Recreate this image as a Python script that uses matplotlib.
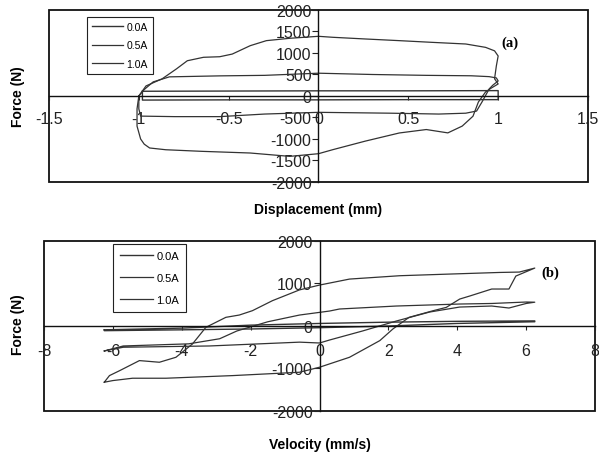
import matplotlib
matplotlib.use("Agg")
import matplotlib.pyplot as plt
from matplotlib.patches import Rectangle

plt.rcParams['font.family'] = ['Liberation Sans', 'DejaVu Sans']

# (a) force vs displacement, one closed loop per current
disp_00 = [-0.98, -0.5, 0.0, 0.5, 1.0, 1.0, 0.5, 0.0, -0.5, -0.98, -0.98]
force_disp_00 = [110, 115, 120, 120, 125, -85, -85, -90, -90, -95, 110]

disp_05 = [-1.0, -0.97, -0.92, -0.83, -0.55, -0.3, 0.0, 0.3, 0.6, 0.85, 0.95, 0.99, 1.0,
           0.97, 0.95, 0.91, 0.88, 0.82, 0.67, 0.4, 0.0, -0.3, -0.55, -0.8, -0.99, -1.0, -1.0]
force_disp_05 = [0, 150, 328, 445, 468, 480, 530, 500, 480, 470, 450, 420, 350,
                 250, 164, -140, -350, -400, -420, -400, -380, -420, -480, -480, -468, -300, 0]

disp_10 = [-1.0, -0.96, -0.87, -0.79, -0.73, -0.64, -0.55, -0.48, -0.38, -0.29, -0.16, 0.0,
           0.08, 0.26, 0.45, 0.63, 0.82, 0.93, 0.98, 1.0, 0.99, 0.98, 1.0, 0.96, 0.93, 0.89,
           0.86, 0.8, 0.72, 0.6, 0.45, 0.26, 0.08, 0.0, -0.16, -0.38, -0.65, -0.85, -0.94,
           -0.97, -0.99, -1.01, -1.01, -1.0]
force_disp_10 = [0, 234, 400, 632, 820, 900, 913, 975, 1170, 1287, 1342, 1388,
                 1365, 1326, 1287, 1248, 1209, 1131, 1050, 930, 700, 400, 280, 180, 94, -140,
                 -470, -700, -858, -780, -860, -1050, -1248, -1342, -1404, -1326, -1287, -1250, -1209,
                 -1120, -1000, -700, -300, 0]

# (b) force vs velocity
vel_00 = [-6.25, -4, -2, 0, 2, 4, 6.25, 6.25, 4, 2, 0, -2, -4, -6.25, -6.25]
force_vel_00 = [-90, -50, 20, 60, 90, 110, 120, 100, 60, 0, -40, -70, -90, -110, -90]

vel_05 = [-6.25, -5.7, -3.8, -2.9, -2.4, -1.5, -0.58, 0.29, 0.58, 2.23, 4.07, 5.0, 6.0, 6.25,
          6.0, 5.5, 5.0, 4.07, 3.2, 2.23, 1.25, 0.29, 0.0, -0.58, -3.2, -5.7, -6.25]
force_vel_05 = [-587, -470, -420, -300, -117, 100, 258, 352, 400, 470, 517, 530, 564, 560,
                530, 423, 470, 446, 329, 117, -117, -330, -400, -380, -470, -500, -587]

vel_10 = [-6.25, -6.1, -5.8, -5.23, -4.65, -4.17, -3.69, -3.3, -2.72, -2.33, -1.95, -1.37, -0.58,
          0.0, 0.87, 2.33, 3.78, 5.23, 5.8, 6.25,
          5.7, 5.5, 5.0, 4.36, 4.07, 3.68, 3.3, 2.6, 2.13, 1.75, 0.87, 0.0, -0.58, -2.52, -4.46,
          -5.43, -6.0, -6.25]
force_vel_10 = [-1323, -1167, -1049, -814, -853, -736, -423, -31, 204, 258, 360, 595, 850,
                963, 1104, 1183, 1222, 1260, 1269, 1363,
                1175, 870, 870, 705, 634, 438, 360, 204, -70, -344, -736, -970, -1088, -1167, -1229,
                -1229, -1284, -1323]

labels = ["0.0A", "0.5A", "1.0A"]
line_col = "#333333"

fig = plt.figure(figsize=(5.99, 4.56), dpi=100)
ax1 = fig.add_axes([0.0818, 0.5987, 0.8998, 0.3772])
ax2 = fig.add_axes([0.0735, 0.0965, 0.9199, 0.3728])


def style_axes(ax, xlim, ylim, xticks, yticks, xpad):
    ax.set_xlim(*xlim)
    ax.set_ylim(*ylim)
    ax.spines['left'].set_position(('data', 0))
    ax.spines['bottom'].set_position(('data', 0))
    ax.spines['top'].set_visible(False)
    ax.spines['right'].set_visible(False)
    for s in ('left', 'bottom'):
        ax.spines[s].set_linewidth(1.0)
        ax.spines[s].set_color('#111111')
    ax.add_patch(Rectangle((0, 0), 1, 1, transform=ax.transAxes, fill=False,
                           lw=1.3, edgecolor='#111111', clip_on=False))
    ax.set_xticks(xticks)
    ax.set_yticks(yticks)
    ax.set_xticklabels([f"{t:g}" for t in xticks])
    ax.set_yticklabels([f"{t:g}" for t in yticks])
    ax.tick_params(axis='x', direction='out', length=3, pad=xpad, labelsize=11.5,
                   colors='#222222')
    ax.tick_params(axis='y', direction='out', length=4, pad=1, labelsize=11.5,
                   colors='#222222')


style_axes(ax1, (-1.5, 1.5), (-2000, 2000), [-1.5, -1, -0.5, 0, 0.5, 1, 1.5],
           list(range(-2000, 2001, 500)), 8)
style_axes(ax2, (-8, 8), (-2000, 2000), [-8, -6, -4, -2, 0, 2, 4, 6, 8],
           [-2000, -1000, 0, 1000, 2000], 9)

ax1.plot(disp_00, force_disp_00, color=line_col, lw=1.0, label=labels[0])
ax1.plot(disp_05, force_disp_05, color=line_col, lw=0.9, label=labels[1])
ax1.plot(disp_10, force_disp_10, color=line_col, lw=0.9, label=labels[2])

ax2.plot(vel_00, force_vel_00, color=line_col, lw=1.0, label=labels[0])
ax2.plot(vel_05, force_vel_05, color=line_col, lw=0.9, label=labels[1])
ax2.plot(vel_10, force_vel_10, color=line_col, lw=0.9, label=labels[2])

leg1 = ax1.legend(loc='upper left', bbox_to_anchor=(0.0705, 0.96), fontsize=7.5,
                  frameon=True, fancybox=False, edgecolor='#222222', framealpha=1,
                  handlelength=3.0, labelspacing=0.8, borderpad=0.5, handletextpad=0.3,
                  borderaxespad=0)
leg1.get_frame().set_linewidth(0.8)
leg2 = ax2.legend(loc='upper left', bbox_to_anchor=(0.125, 0.982), fontsize=8,
                  frameon=True, fancybox=False, edgecolor='#222222', framealpha=1,
                  handlelength=3.0, labelspacing=1.1, borderpad=0.6, handletextpad=0.3,
                  borderaxespad=0)
leg2.get_frame().set_linewidth(0.8)

ax1.text(0.855, 0.814, "(a)", transform=ax1.transAxes, ha='center', va='center',
         fontsize=10.5, fontweight='bold', family='Liberation Serif')
ax2.text(0.918, 0.818, "(b)", transform=ax2.transAxes, ha='center', va='center',
         fontsize=10.5, fontweight='bold', family='Liberation Serif')

fig.text(318 / 599, 1 - 210 / 456, "Displacement (mm)", ha='center', va='center',
         fontsize=10, fontweight='bold')
fig.text(320 / 599, 1 - 445 / 456, "Velocity (mm/s)", ha='center', va='center',
         fontsize=10, fontweight='bold')
fig.text(18 / 599, 1 - 97 / 456, "Force (N)", ha='center', va='center', rotation=90,
         fontsize=10, fontweight='bold')
fig.text(18 / 599, 1 - 325 / 456, "Force (N)", ha='center', va='center', rotation=90,
         fontsize=10, fontweight='bold')

fig.savefig("out.png", dpi=100)
